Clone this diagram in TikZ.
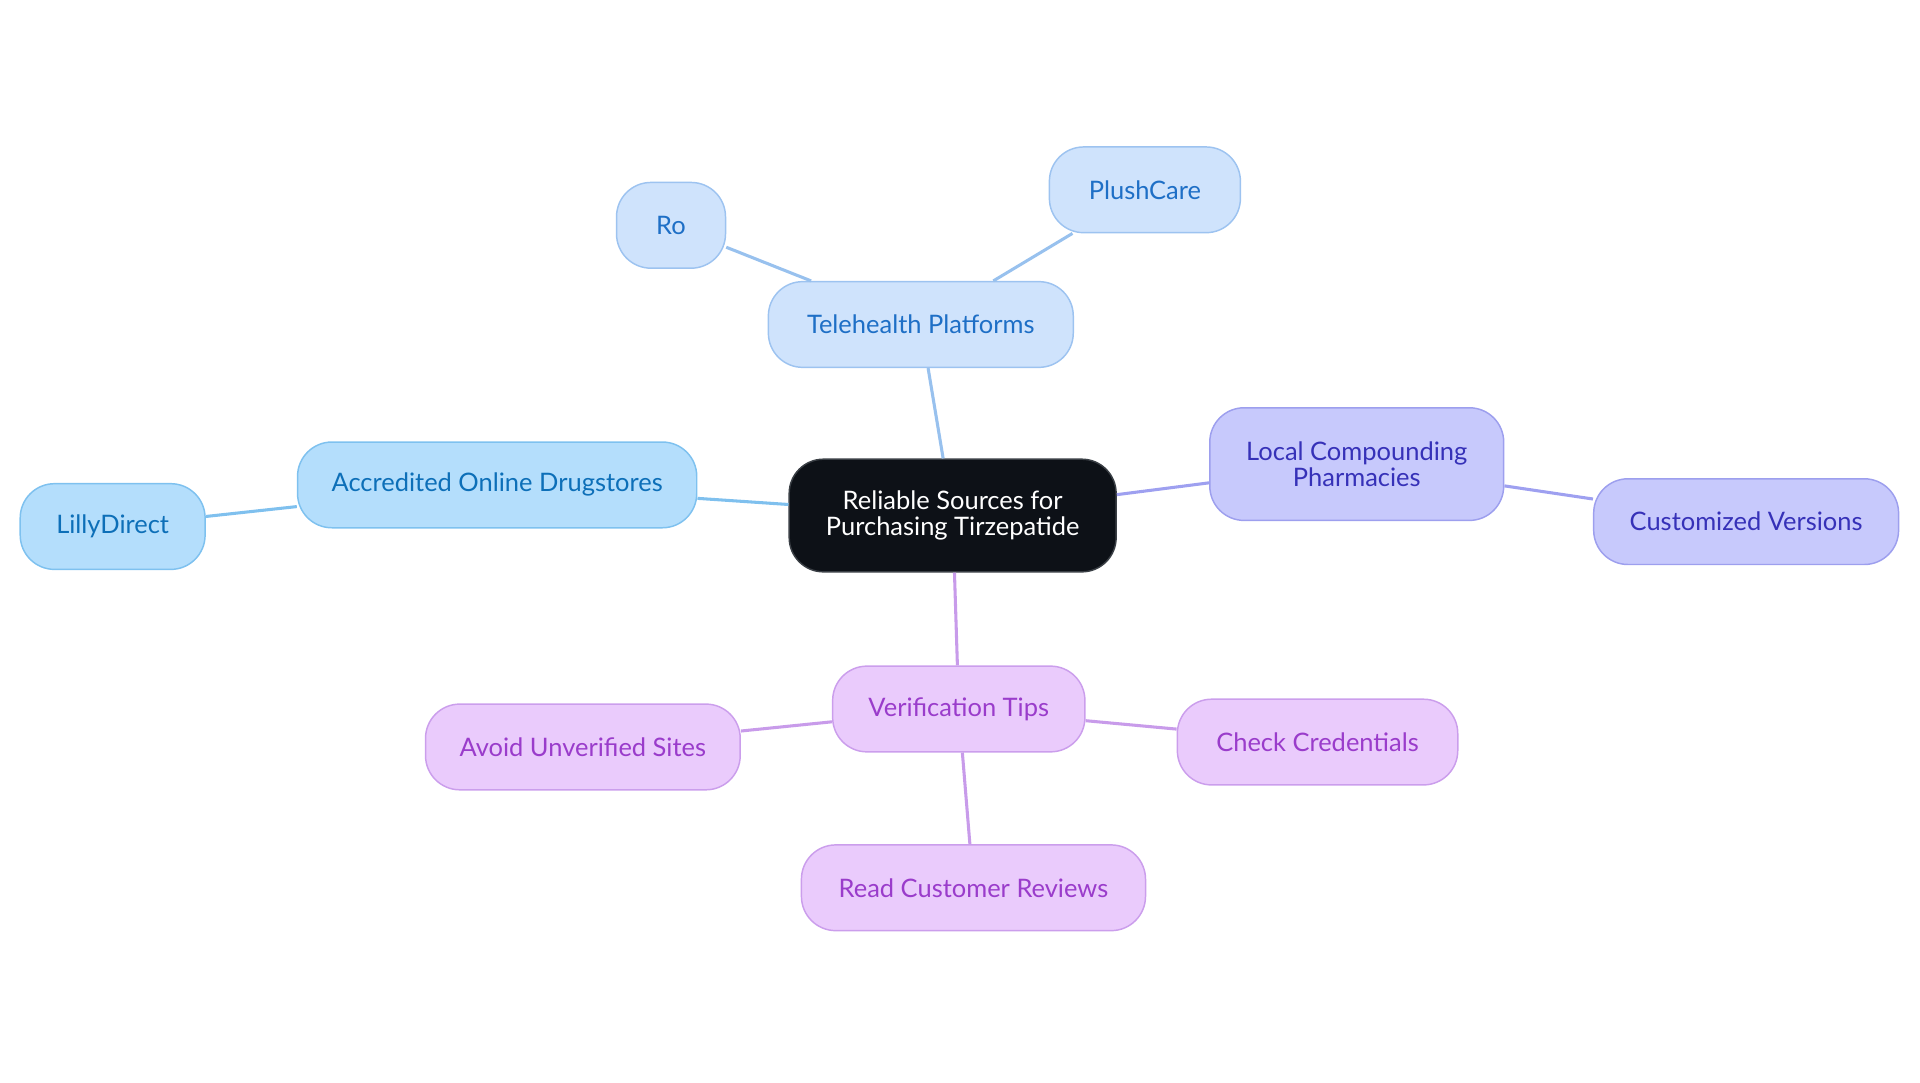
\documentclass[tikz,border=0pt]{standalone}
\usepackage{fontspec}
\setmainfont{Lato}
\definecolor{tfill}{HTML}{CFE3FC}
\definecolor{tdraw}{HTML}{9DC3F0}
\definecolor{ttext}{HTML}{1E6FC6}
\definecolor{tedge}{HTML}{98C1EE}
\definecolor{afill}{HTML}{B4DEFC}
\definecolor{adraw}{HTML}{7EC1EF}
\definecolor{atext}{HTML}{0D6FB8}
\definecolor{aedge}{HTML}{7FC0EE}
\definecolor{lfill}{HTML}{C7C9FC}
\definecolor{ldraw}{HTML}{9D9FEE}
\definecolor{ltext}{HTML}{3631B8}
\definecolor{ledge}{HTML}{9EA0F0}
\definecolor{vfill}{HTML}{EACBFC}
\definecolor{vdraw}{HTML}{CB9EEC}
\definecolor{vtext}{HTML}{9A3CCB}
\definecolor{vedge}{HTML}{C89BEA}
\definecolor{rfill}{HTML}{0D1117}
\definecolor{rdraw}{HTML}{3A3F45}
\begin{document}
\begin{tikzpicture}[x=1pt,y=-1pt,
  box/.style={rectangle,rounded corners=28pt,line width=1.2pt,align=center,
    font=\fontsize{20.8}{21.5}\selectfont,inner sep=0pt},
  tbox/.style={box,fill=tfill,draw=tdraw,text=ttext},
  abox/.style={box,fill=afill,draw=adraw,text=atext},
  lbox/.style={box,fill=lfill,draw=ldraw,text=ltext},
  vbox/.style={box,fill=vfill,draw=vdraw,text=vtext},
  rootbox/.style={box,fill=rfill,draw=rdraw,text=white},
  edge/.style={line width=2.5pt}]
\useasboundingbox (0,0) rectangle (1568,884.4);
% nodes
\node[rootbox,minimum width=267pt,minimum height=92pt] (root) at (778,421) {Reliable Sources for\\Purchasing Tirzepatide};
\node[tbox,minimum width=249pt,minimum height=70pt] (tele) at (752,265) {Telehealth Platforms};
\node[tbox,minimum width=89pt,minimum height=70pt] (ro) at (548,184) {Ro};
\node[tbox,minimum width=156pt,minimum height=70pt] (plush) at (935,155) {PlushCare};
\node[abox,minimum width=326pt,minimum height=70pt] (acc) at (406,396) {Accredited Online Drugstores};
\node[abox,minimum width=151pt,minimum height=70pt] (lilly) at (92,430) {LillyDirect};
\node[lbox,minimum width=240pt,minimum height=92pt] (local) at (1108,379) {Local Compounding\\Pharmacies};
\node[lbox,minimum width=249pt,minimum height=70pt] (cust) at (1426,426) {Customized Versions};
\node[vbox,minimum width=206pt,minimum height=70pt] (ver) at (783,579) {Verification Tips};
\node[vbox,minimum width=257pt,minimum height=70pt] (avoid) at (476,610) {Avoid Unverified Sites};
\node[vbox,minimum width=229pt,minimum height=70pt] (check) at (1076,606) {Check Credentials};
\node[vbox,minimum width=281pt,minimum height=70pt] (read) at (795,725) {Read Customer Reviews};
% edges
\draw[edge,tedge] (root) -- (tele);
\draw[edge,tedge] (tele) -- (ro);
\draw[edge,tedge] (tele) -- (plush);
\draw[edge,aedge] (root) -- (acc);
\draw[edge,aedge] (acc) -- (lilly);
\draw[edge,ledge] (root) -- (local);
\draw[edge,ledge] (local) -- (cust);
\draw[edge,vedge] (root) -- (ver);
\draw[edge,vedge] (ver) -- (avoid);
\draw[edge,vedge] (ver) -- (check);
\draw[edge,vedge] (ver) -- (read);
\end{tikzpicture}
\end{document}
